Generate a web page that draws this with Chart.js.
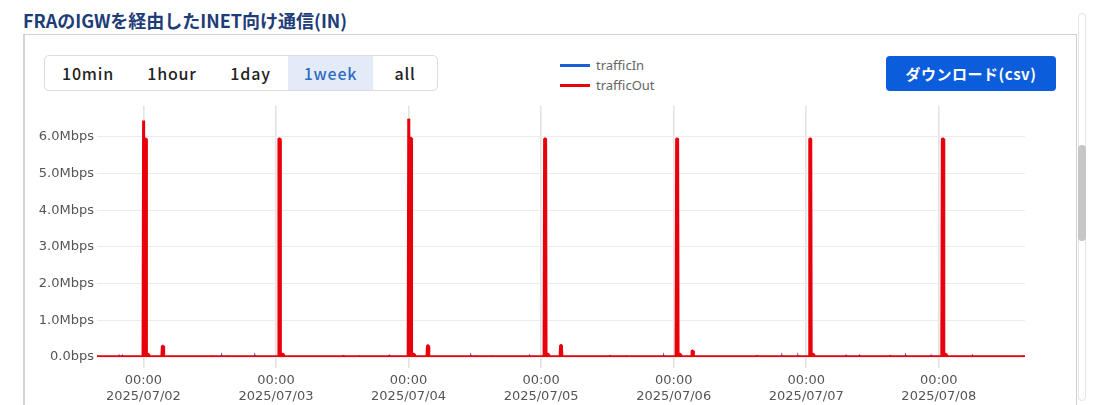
<!DOCTYPE html>
<html lang="ja">
<head>
<meta charset="utf-8">
<title>FRAのIGWを経由したINET向け通信(IN)</title>
<script src="https://cdn.jsdelivr.net/npm/chart.js@4.4.1/dist/chart.umd.min.js"></script>
<style>
html, body { margin: 0; padding: 0; background: #fff; width: 1104px; height: 405px; overflow: hidden;
  font-family: "Noto Sans CJK JP", "Noto Sans", sans-serif; }
#title { position: absolute; left: 23px; top: 7px; font-size: 18px; font-weight: 700; color: #1d3c78;
  line-height: 26px; white-space: nowrap; }
#card { position: absolute; left: 23px; top: 34px; width: 1054px; height: 420px; box-sizing: border-box;
  border: 1px solid #d0d0d0; border-left: 2px solid #d4d4d4; border-bottom: none; }
#range { position: absolute; left: 44px; top: 55px; height: 36px; display: flex; box-sizing: border-box;
  border: 1px solid #dcdcdc; border-radius: 5px; overflow: hidden; }
#range div { height: 34px; line-height: 34px; text-align: center; font-size: 16px; font-weight: 500;
  letter-spacing: 0.8px; color: #222; }
#range div.on { background: #e2ebf7; color: #2f6cc4; }
#legend { position: absolute; left: 560px; top: 55px; font-family: "Noto Sans", sans-serif; font-size: 13px; color: #666; }
#legend div { height: 20px; line-height: 20px; display: flex; align-items: center; }
#legend span.ln { display: inline-block; width: 30px; height: 3px; margin-right: 6px; }
#dl { position: absolute; left: 886px; top: 56px; width: 170px; height: 35px; background: #0b5ddb; border-radius: 4px;
  color: #fff; font-size: 15px; font-weight: 700; text-align: center; line-height: 35px; letter-spacing: 0.5px; }
#track { position: absolute; left: 1078px; top: 13px; width: 8px; height: 388px; border: 1px solid #e4e4e4;
  border-radius: 5px; box-sizing: border-box; }
#thumb { position: absolute; left: 1078px; top: 145px; width: 8px; height: 96px; background: #c6c6c6; border-radius: 4px; }
#chart { position: absolute; left: 26px; top: 95px; }
</style>
</head>
<body>
<div id="title">FRAのIGWを経由したINET向け通信(IN)</div>
<div id="card"></div>
<div id="range">
  <div style="width:86px">10min</div>
  <div style="width:82px">1hour</div>
  <div style="width:75px">1day</div>
  <div class="on" style="width:85px">1week</div>
  <div style="width:64px">all</div>
</div>
<div id="legend">
  <div><span class="ln" style="background:#1a5fd6"></span>trafficIn</div>
  <div><span class="ln" style="background:#e8000b"></span>trafficOut</div>
</div>
<div id="dl">ダウンロード(csv)</div>
<div id="track"></div>
<div id="thumb"></div>
<canvas id="chart" width="1004" height="310"></canvas>

<script>
// x = hours from 2025/07/02 00:00, y = Mbps
const xMin = -8.4;
const xMax = 159.6;
const dayTicks = [0, 24, 48, 72, 96, 120, 144];
const dayLabels = ['2025/07/02', '2025/07/03', '2025/07/04', '2025/07/05', '2025/07/06', '2025/07/07', '2025/07/08'];
const mbpsTicks = [0, 1, 2, 3, 4, 5, 6];
const mbpsMax = 6.85;

const trafficOut = [
  [-8.4, 0.01], [-2.0, 0.01], [-0.1, 0.01],
  [0.0, 6.45], [0.08, 5.95], [0.5, 5.95], [0.58, 0.08], [0.9, 0.08], [1.0, 0.01],
  [3.3, 0.01], [3.4, 0.30], [3.6, 0.30], [3.7, 0.01],
  [6.7, 0.01], [6.8, 0.03], [6.9, 0.01],
  [9.4, 0.01], [9.5, 0.03], [9.6, 0.01],
  [12.1, 0.01], [12.2, 0.04], [12.3, 0.01],
  [15.0, 0.01], [15.1, 0.04], [15.2, 0.01],
  [24.4, 0.01], [24.5, 5.95], [24.75, 5.95], [24.83, 0.08], [25.3, 0.08], [25.4, 0.01],
  [36.1, 0.01], [36.2, 0.04], [36.3, 0.01],
  [38.9, 0.01], [39.0, 0.04], [39.1, 0.01],
  [47.9, 0.01], [48.0, 6.5], [48.08, 5.97], [48.5, 5.97], [48.58, 0.08], [49.0, 0.08], [49.1, 0.01],
  [51.3, 0.01], [51.4, 0.31], [51.6, 0.31], [51.7, 0.01],
  [60.1, 0.01], [60.2, 0.04], [60.3, 0.01],
  [62.8, 0.01], [62.9, 0.04], [63.0, 0.01],
  [72.5, 0.01], [72.6, 5.95], [72.85, 5.95], [72.93, 0.08], [73.3, 0.08], [73.4, 0.01],
  [75.4, 0.01], [75.5, 0.32], [75.7, 0.32], [75.8, 0.01],
  [84.4, 0.01], [84.5, 0.03], [84.6, 0.01],
  [87.2, 0.01], [87.3, 0.04], [87.4, 0.01],
  [96.4, 0.01], [96.5, 5.95], [96.75, 5.95], [96.83, 0.08], [97.2, 0.08], [97.3, 0.01],
  [99.2, 0.01], [99.3, 0.17], [99.5, 0.17], [99.6, 0.01],
  [108.2, 0.01], [108.3, 0.03], [108.4, 0.01],
  [111.0, 0.01], [111.1, 0.04], [111.2, 0.01],
  [120.5, 0.01], [120.6, 5.95], [120.85, 5.95], [120.93, 0.08], [121.3, 0.08], [121.4, 0.01],
  [132.3, 0.01], [132.4, 0.03], [132.5, 0.01],
  [135.1, 0.01], [135.2, 0.04], [135.3, 0.01],
  [144.5, 0.01], [144.6, 5.95], [144.85, 5.95], [144.93, 0.08], [145.3, 0.08], [145.4, 0.01],
  [156.4, 0.01], [156.5, 0.03], [156.6, 0.01],
  [159.1, 0.01], [159.2, 0.04], [159.3, 0.01], [159.6, 0.01]
];

const trafficIn = [
  [-8.4, 0.005],
  [-4.5, 0.005], [-4.4, 0.04], [-4.3, 0.005], [-3.9, 0.005], [-3.8, 0.04], [-3.7, 0.005],
  [14.1, 0.005], [14.2, 0.04], [14.3, 0.005],
  [20.1, 0.005], [20.2, 0.04], [20.3, 0.005],
  [44.4, 0.005], [44.5, 0.04], [44.6, 0.005],
  [59.2, 0.005], [59.3, 0.04], [59.4, 0.005],
  [69.8, 0.005], [69.9, 0.04], [70.0, 0.005],
  [94.1, 0.005], [94.2, 0.04], [94.3, 0.005],
  [115.5, 0.005], [115.6, 0.04], [115.7, 0.005],
  [118.4, 0.005], [118.5, 0.04], [118.6, 0.005],
  [127.1, 0.005], [127.2, 0.04], [127.3, 0.005],
  [129.5, 0.005], [129.6, 0.04], [129.7, 0.005],
  [137.9, 0.005], [138.0, 0.04], [138.1, 0.005],
  [142.5, 0.005], [142.6, 0.04], [142.7, 0.005],
  [150.0, 0.005], [150.1, 0.04], [150.2, 0.005],
  [159.6, 0.005]
];

const toPts = arr => arr.map(p => ({ x: p[0], y: p[1] * 1e6 }));
const tickFont = { family: "'DejaVu Sans', sans-serif", size: 13 };

new Chart(document.getElementById('chart').getContext('2d'), {
  type: 'line',
  data: {
    datasets: [
      {
        label: 'trafficIn',
        data: toPts(trafficIn),
        borderColor: '#1a5fd6',
        backgroundColor: '#1a5fd6',
        borderWidth: 1.5,
        pointRadius: 0,
        tension: 0,
        order: 1
      },
      {
        label: 'trafficOut',
        data: toPts(trafficOut),
        borderColor: '#e8000b',
        backgroundColor: '#e8000b',
        borderWidth: 2.6,
        borderJoinStyle: 'bevel',
        pointRadius: 0,
        tension: 0,
        fill: 'origin',
        order: 0
      }
    ]
  },
  options: {
    responsive: false,
    animation: false,
    layout: { padding: { top: 7, right: 5, left: 0, bottom: 0 } },
    plugins: {
      legend: { display: false },
      tooltip: { enabled: false }
    },
    scales: {
      x: {
        type: 'linear',
        min: xMin,
        max: xMax,
        afterBuildTicks: axis => { axis.ticks = dayTicks.map(v => ({ value: v })); },
        afterFit: axis => { axis.height = 48; },
        ticks: {
          color: '#555',
          font: tickFont,
          padding: 5,
          maxRotation: 0,
          autoSkip: false,
          callback: v => ['00:00', dayLabels[dayTicks.indexOf(v)]]
        },
        grid: { color: '#e3e3e3', lineWidth: 1.6, tickLength: 11 },
        border: { display: false }
      },
      y: {
        type: 'linear',
        min: 0,
        max: mbpsMax * 1e6,
        afterBuildTicks: axis => { axis.ticks = mbpsTicks.map(v => ({ value: v * 1e6 })); },
        afterFit: axis => { axis.width = 71; },
        ticks: {
          color: '#555',
          font: tickFont,
          padding: 3,
          callback: v => v === 0 ? '0.0bps' : (v / 1e6).toFixed(1) + 'Mbps'
        },
        grid: { color: '#ececec', lineWidth: 1, drawTicks: false },
        border: { display: false }
      }
    }
  }
});
</script>
</body>
</html>
